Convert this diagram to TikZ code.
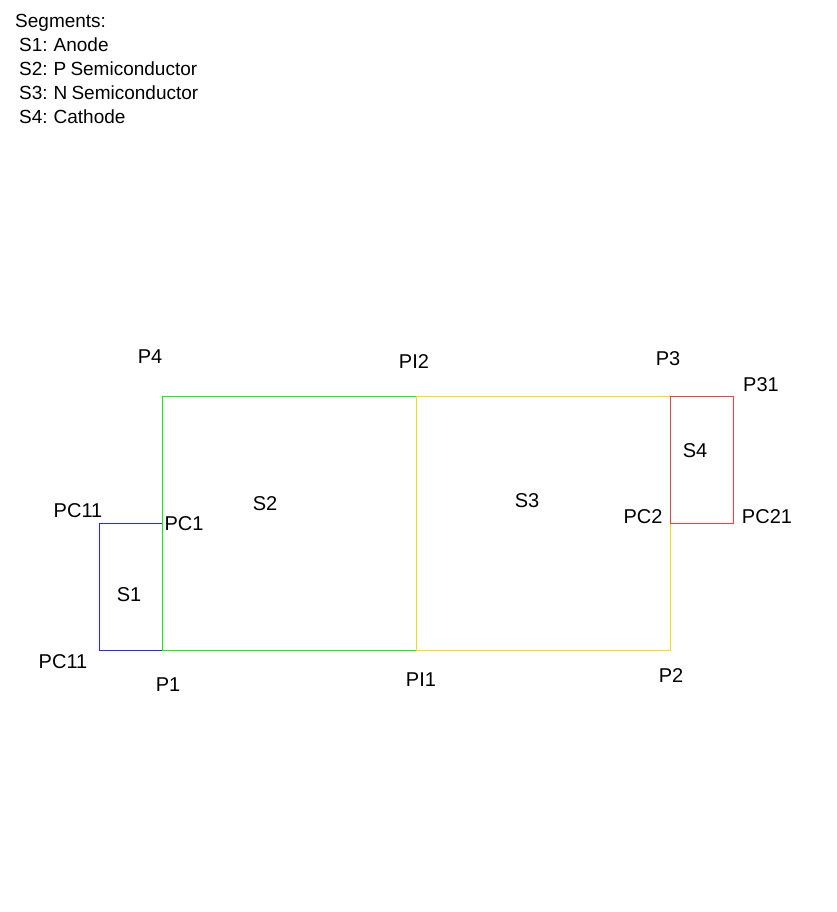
\documentclass[tikz,border=0pt]{standalone}
\usepackage{fontspec}
\setmainfont{Liberation Sans}
\definecolor{segblue}{RGB}{40,40,255}
\definecolor{seggreen}{RGB}{0,255,0}
\definecolor{segyellow}{RGB}{255,220,0}
\definecolor{segred}{RGB}{255,60,60}
\newcommand{\myleg}[1]{{\fontsize{19}{22}\selectfont\spaceskip=0.22em\relax #1}}
\begin{document}
\begin{tikzpicture}[x=1pt,y=-1pt,
  lbl/.style={inner sep=0pt,font=\fontsize{20}{24}\selectfont,anchor=center},
  legend/.style={inner sep=0pt,anchor=base west},
  seg/.style={line width=1pt}]
\useasboundingbox (0,0) rectangle (836,912);
% legend
\node[legend] (leg0) at (15,27.5) {\myleg{Segments:}};
\node[legend] (leg1) at (19,52) {\myleg{S1: Anode}};
\node[legend] (leg2) at (19,76) {\myleg{S2: P Semiconductor}};
\node[legend] (leg3) at (19,100) {\myleg{S3: N Semiconductor}};
\node[legend] (leg4) at (19,124) {\myleg{S4: Cathode}};
% points
\coordinate (pc11a) at (99,523);
\coordinate (pc11b) at (99,650);
\coordinate (p1) at (162,650);
\coordinate (pc1) at (162,523);
\coordinate (p4) at (162,396);
\coordinate (pi1) at (416,650);
\coordinate (pi2) at (416,396);
\coordinate (p2) at (670,650);
\coordinate (p3) at (670,396);
\coordinate (pc2) at (670,523);
\coordinate (p31) at (733,396);
\coordinate (pc21) at (733,523);
% segments
\draw[seg,segblue] (pc11b) rectangle (pc1);
\draw[seg,seggreen] (p1) rectangle (pi2);
\draw[seg,segyellow] (pi1) rectangle (p3);
\draw[seg,segred] (pc2) rectangle (p31);
% segment labels
\node[lbl] (s1) at (129,595) {S1};
\node[lbl] (s2) at (265,504) {S2};
\node[lbl] (s3) at (527,501) {S3};
\node[lbl] (s4) at (695,451) {S4};
% point labels
\node[lbl] (lp4) at (150,357) {P4};
\node[lbl] (lpi2) at (414,362) {PI2};
\node[lbl] (lp3) at (668,359) {P3};
\node[lbl] (lp31) at (761,385) {P31};
\node[lbl] (lpc11a) at (78,511) {PC11};
\node[lbl] (lpc1) at (184,524) {PC1};
\node[lbl] (lpc2) at (643,517) {PC2};
\node[lbl] (lpc21) at (767,517) {PC21};
\node[lbl] (lpc11b) at (63,662) {PC11};
\node[lbl] (lp1) at (168,685) {P1};
\node[lbl] (lpi1) at (421,680) {PI1};
\node[lbl] (lp2) at (671,676) {P2};
\end{tikzpicture}
\end{document}
